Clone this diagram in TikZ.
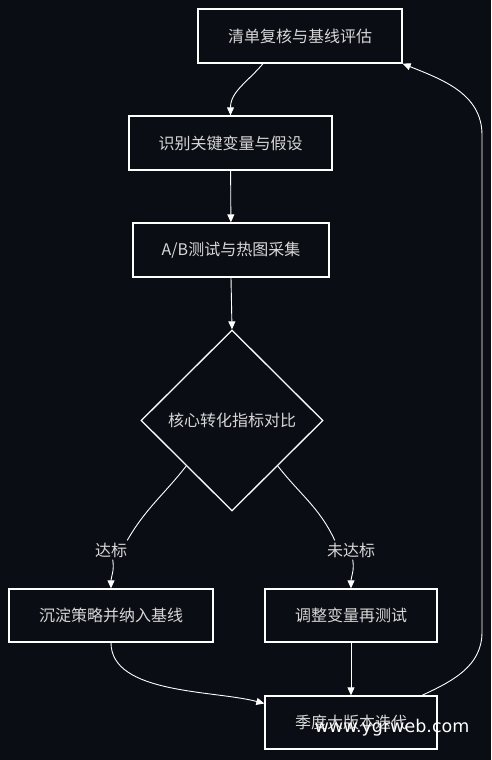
\documentclass[tikz,border=0pt]{standalone}
\usepackage{fontspec}
\newfontfamily\cjk{Noto Sans CJK SC}
\newfontfamily\wmfont{DejaVu Sans}
\usetikzlibrary{shapes.geometric,arrows.meta}
\definecolor{bg}{RGB}{11,13,20}
\definecolor{txt}{RGB}{215,215,215}
\tikzset{
  stepbox/.style={draw=white,line width=1.3pt,fill=bg,text=txt,minimum height=54pt,inner sep=0pt,font=\cjk\fontsize{16}{18}\selectfont},
  choice/.style={diamond,draw=white,line width=1.3pt,fill=bg,text=txt,minimum width=182pt,minimum height=181pt,inner sep=0pt,font=\cjk\fontsize{16}{18}\selectfont},
  tag/.style={fill=bg,text=txt,inner sep=2pt,font=\cjk\fontsize{16}{18}\selectfont},
  arr/.style={-{Triangle[length=8pt,width=7pt]},draw=white,line width=0.9pt},
  link/.style={draw=white,line width=0.9pt}
}
\begin{document}
\begin{tikzpicture}[x=1pt,y=-1pt]
      \fill[bg] (0,0) rectangle (491,760);
      \useasboundingbox (0,0) rectangle (491,760);
      \draw
        (300,36) node[stepbox,minimum width=204pt] (review){清单复核与基线评估}
        (230.5,143) node[stepbox,minimum width=203pt] (vars){识别关键变量与假设}
        (231,250) node[stepbox,minimum width=196pt] (test){A/B测试与热图采集}
        (232,420.5) node[choice] (cmp){核心转化指标对比}
        (111,550) node[tag] (yes){达标}
        (351,550) node[tag] (no){未达标}
        (111,615.5) node[stepbox,minimum width=204pt,minimum height=53pt] (keep){沉淀策略并纳入基线}
        (351,615.5) node[stepbox,minimum width=172pt,minimum height=53pt] (adjust){调整变量再测试}
        (351,722.5) node[stepbox,minimum width=172pt,minimum height=53pt] (season){季度大版本迭代};
      \coordinate (up1) at (482,632);
      \coordinate (up2) at (482,135);
      \begin{scope}[arr]
        \draw ([xshift=-37pt]review.south) to[out=-130,in=90] (vars.north);
        \draw (vars) -- (test);
        \draw (test.south) -- (cmp.north);
        \draw (yes) to[out=-80,in=90] (keep.north);
        \draw (no) to[out=-80,in=90] (adjust.north);
        \draw (keep.south) to[out=-90,in=165,looseness=0.8] ([yshift=19pt]season.west);
        \draw (adjust) -- (season);
        \draw ([xshift=71pt]season.north) to[out=25,in=-90] (up1) -- (up2) to[out=90,in=-22] (review.south east);
      \end{scope}
      \begin{scope}[link]
        \draw (cmp.south west) to[out=-128,in=60] ([xshift=-2pt]yes.north east);
        \draw (cmp.south east) to[out=-52,in=115] ([xshift=10pt]no.north west);
      \end{scope}
      \node[text=white,font=\wmfont\fontsize{17.5}{20}\selectfont,inner sep=0pt] (mark) at (392,728) {www.ygrweb.com};
    \end{tikzpicture}
\end{document}
